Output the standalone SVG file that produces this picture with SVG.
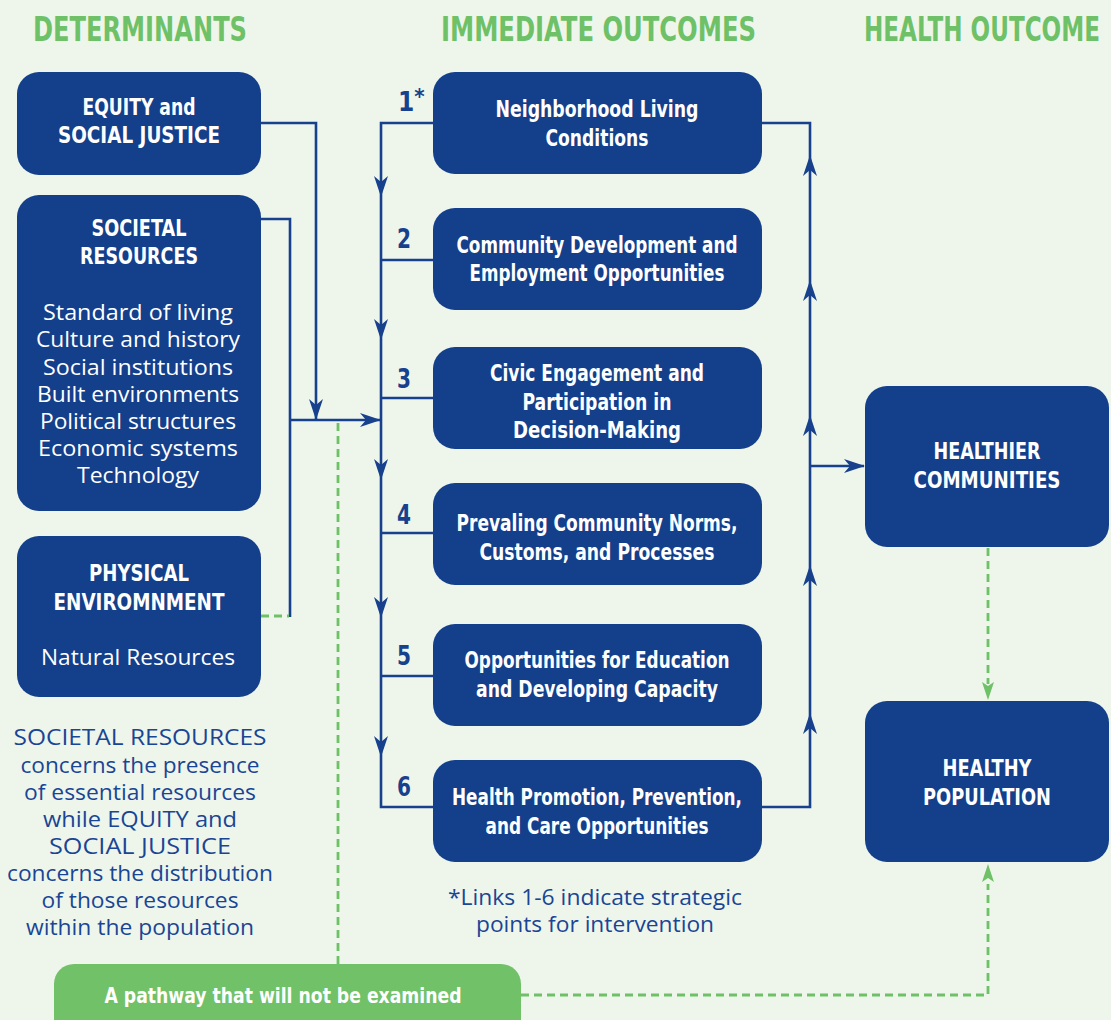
<svg xmlns="http://www.w3.org/2000/svg" xmlns:xlink="http://www.w3.org/1999/xlink" width="1111" height="1020" viewBox="0 0 1111 1020">
<style>
.bg{fill:#EEF6EC}
.box{fill:#133F8B}
.pill{fill:#71C169}
.hd{font-family:"DejaVu Sans Condensed","Liberation Sans",sans-serif;font-weight:bold;font-size:34px;fill:#6EC167}
.bt{font-family:"DejaVu Sans Condensed","Liberation Sans",sans-serif;font-weight:bold;font-size:23.5px;fill:#FFFFFF;text-anchor:middle}
.num{font-family:"DejaVu Sans Condensed","Liberation Sans",sans-serif;font-weight:bold;font-size:26px;fill:#17418D}
.reg{font-family:"Open Sans","Noto Sans","Liberation Sans",sans-serif;font-size:21.5px;fill:#FFFFFF;text-anchor:middle}
.regb{font-family:"Open Sans","Noto Sans","Liberation Sans",sans-serif;font-size:21.5px;fill:#1A4594;text-anchor:middle}
.ln{fill:none;stroke:#17418D;stroke-width:2.6}
.gd{fill:none;stroke:#6EC167;stroke-width:2.8;stroke-dasharray:8 5}
.ah{fill:#17418D}
.gah{fill:#6EC167}
</style>
<defs>
<path id="ah" d="M0,0 L-21,-7 L-15,0 L-21,7 Z"/>
<path id="gah" d="M0,0 L-18,-6 L-14,0 L-18,6 Z"/>
</defs>
<rect class="bg" x="0" y="0" width="1111" height="1020"/>

<g id="headers">
<text class="hd" x="33" y="41" textLength="214" lengthAdjust="spacingAndGlyphs">DETERMINANTS</text>
<text class="hd" x="441" y="41" textLength="315" lengthAdjust="spacingAndGlyphs">IMMEDIATE OUTCOMES</text>
<text class="hd" x="864" y="41" textLength="236" lengthAdjust="spacingAndGlyphs">HEALTH OUTCOME</text>
</g>

<g id="connectors">
<path class="ln" d="M261,123 H316 V419"/>
<path class="ln" d="M261,219 H290 V617"/>
<path class="ln" d="M290,420 H380"/>
<path class="ln" d="M433,123 H381 V807 H433"/>
<path class="ln" d="M381,260 H433 M381,398 H433 M381,533 H433 M381,676 H433"/>
<path class="ln" d="M762,123 H810 V807 H762"/>
<path class="ln" d="M810,466 H864"/>
<use xlink:href="#ah" class="ah" transform="translate(316,420) rotate(90)"/>
<use xlink:href="#ah" class="ah" transform="translate(381,420)"/>
<use xlink:href="#ah" class="ah" transform="translate(381,197) rotate(90)"/>
<use xlink:href="#ah" class="ah" transform="translate(381,340) rotate(90)"/>
<use xlink:href="#ah" class="ah" transform="translate(381,480) rotate(90)"/>
<use xlink:href="#ah" class="ah" transform="translate(381,618) rotate(90)"/>
<use xlink:href="#ah" class="ah" transform="translate(381,757) rotate(90)"/>
<use xlink:href="#ah" class="ah" transform="translate(810,155) rotate(-90)"/>
<use xlink:href="#ah" class="ah" transform="translate(810,280) rotate(-90)"/>
<use xlink:href="#ah" class="ah" transform="translate(810,415) rotate(-90)"/>
<use xlink:href="#ah" class="ah" transform="translate(810,565) rotate(-90)"/>
<use xlink:href="#ah" class="ah" transform="translate(810,713) rotate(-90)"/>
<use xlink:href="#ah" class="ah" transform="translate(865,466)"/>
<path class="gd" d="M261,616 H289"/>
<path class="gd" d="M338,423 V964"/>
<path class="gd" d="M988,548 V684"/>
<path class="gd" d="M521,995 H988 V884"/>
<use xlink:href="#gah" class="gah" transform="translate(988,700) rotate(90)"/>
<use xlink:href="#gah" class="gah" transform="translate(988,864) rotate(-90)"/>
</g>

<g id="equity">
<rect class="box" x="17" y="72" width="244" height="103" rx="22"/>
<text class="bt" x="139" y="115" textLength="113" lengthAdjust="spacingAndGlyphs">EQUITY and</text>
<text class="bt" x="139" y="143" textLength="162" lengthAdjust="spacingAndGlyphs">SOCIAL JUSTICE</text>
</g>

<g id="societal">
<rect class="box" x="17" y="195" width="244" height="316" rx="22"/>
<text class="bt" x="139" y="236" textLength="95" lengthAdjust="spacingAndGlyphs">SOCIETAL</text>
<text class="bt" x="139" y="264" textLength="118" lengthAdjust="spacingAndGlyphs">RESOURCES</text>
<text class="reg" x="138" y="320" textLength="190" lengthAdjust="spacingAndGlyphs">Standard of living</text>
<text class="reg" x="138" y="347" textLength="204" lengthAdjust="spacingAndGlyphs">Culture and history</text>
<text class="reg" x="138" y="375" textLength="190" lengthAdjust="spacingAndGlyphs">Social institutions</text>
<text class="reg" x="138" y="402" textLength="202" lengthAdjust="spacingAndGlyphs">Built environments</text>
<text class="reg" x="138" y="429" textLength="196" lengthAdjust="spacingAndGlyphs">Political structures</text>
<text class="reg" x="138" y="456" textLength="200" lengthAdjust="spacingAndGlyphs">Economic systems</text>
<text class="reg" x="138" y="483" textLength="122" lengthAdjust="spacingAndGlyphs">Technology</text>
</g>

<g id="physical">
<rect class="box" x="17" y="536" width="244" height="161" rx="22"/>
<text class="bt" x="139" y="581" textLength="100" lengthAdjust="spacingAndGlyphs">PHYSICAL</text>
<text class="bt" x="139" y="610" textLength="171" lengthAdjust="spacingAndGlyphs">ENVIROMNMENT</text>
<text class="reg" x="138" y="665" textLength="194" lengthAdjust="spacingAndGlyphs">Natural Resources</text>
</g>

<g id="note-left">
<text class="regb" x="140" y="745" textLength="253" lengthAdjust="spacingAndGlyphs">SOCIETAL RESOURCES</text>
<text class="regb" x="140" y="773" textLength="239" lengthAdjust="spacingAndGlyphs">concerns the presence</text>
<text class="regb" x="140" y="800" textLength="232" lengthAdjust="spacingAndGlyphs">of essential resources</text>
<text class="regb" x="140" y="827" textLength="194" lengthAdjust="spacingAndGlyphs">while EQUITY and</text>
<text class="regb" x="140" y="854" textLength="182" lengthAdjust="spacingAndGlyphs">SOCIAL JUSTICE</text>
<text class="regb" x="140" y="881" textLength="266" lengthAdjust="spacingAndGlyphs">concerns the distribution</text>
<text class="regb" x="140" y="908" textLength="197" lengthAdjust="spacingAndGlyphs">of those resources</text>
<text class="regb" x="140" y="935" textLength="228" lengthAdjust="spacingAndGlyphs">within the population</text>
</g>

<g id="numbers">
<text class="num" x="398" y="111">1<tspan dy="-7" style="font-size:22px">*</tspan></text>
<text class="num" x="397" y="248" textLength="14" lengthAdjust="spacingAndGlyphs">2</text>
<text class="num" x="397" y="388" textLength="14" lengthAdjust="spacingAndGlyphs">3</text>
<text class="num" x="397" y="524" textLength="14" lengthAdjust="spacingAndGlyphs">4</text>
<text class="num" x="397" y="665" textLength="14" lengthAdjust="spacingAndGlyphs">5</text>
<text class="num" x="397" y="796" textLength="14" lengthAdjust="spacingAndGlyphs">6</text>
</g>

<g id="o1">
<rect class="box" x="433" y="72" width="329" height="102" rx="22"/>
<text class="bt" x="597" y="117" textLength="203" lengthAdjust="spacingAndGlyphs">Neighborhood Living</text>
<text class="bt" x="597" y="146" textLength="103" lengthAdjust="spacingAndGlyphs">Conditions</text>
</g>
<g id="o2">
<rect class="box" x="433" y="208" width="329" height="102" rx="22"/>
<text class="bt" x="597" y="253" textLength="281" lengthAdjust="spacingAndGlyphs">Community Development and</text>
<text class="bt" x="597" y="281" textLength="255" lengthAdjust="spacingAndGlyphs">Employment Opportunities</text>
</g>
<g id="o3">
<rect class="box" x="433" y="347" width="329" height="102" rx="22"/>
<text class="bt" x="597" y="381" textLength="214" lengthAdjust="spacingAndGlyphs">Civic Engagement and</text>
<text class="bt" x="597" y="410" textLength="149" lengthAdjust="spacingAndGlyphs">Participation in</text>
<text class="bt" x="597" y="438" textLength="168" lengthAdjust="spacingAndGlyphs">Decision-Making</text>
</g>
<g id="o4">
<rect class="box" x="433" y="483" width="329" height="102" rx="22"/>
<text class="bt" x="597" y="531" textLength="281" lengthAdjust="spacingAndGlyphs">Prevaling Community Norms,</text>
<text class="bt" x="597" y="560" textLength="235" lengthAdjust="spacingAndGlyphs">Customs, and Processes</text>
</g>
<g id="o5">
<rect class="box" x="433" y="624" width="329" height="102" rx="22"/>
<text class="bt" x="597" y="668" textLength="265" lengthAdjust="spacingAndGlyphs">Opportunities for Education</text>
<text class="bt" x="597" y="697" textLength="242" lengthAdjust="spacingAndGlyphs">and Developing Capacity</text>
</g>
<g id="o6">
<rect class="box" x="433" y="760" width="329" height="102" rx="22"/>
<text class="bt" x="597" y="805" textLength="290" lengthAdjust="spacingAndGlyphs">Health Promotion, Prevention,</text>
<text class="bt" x="597" y="834" textLength="223" lengthAdjust="spacingAndGlyphs">and Care Opportunities</text>
</g>

<g id="footnote">
<text class="regb" x="595" y="905" textLength="294" lengthAdjust="spacingAndGlyphs">*Links 1-6 indicate strategic</text>
<text class="regb" x="595" y="932" textLength="238" lengthAdjust="spacingAndGlyphs">points for intervention</text>
</g>

<g id="healthier">
<rect class="box" x="865" y="386" width="244" height="161" rx="22"/>
<text class="bt" x="987" y="459" textLength="107" lengthAdjust="spacingAndGlyphs">HEALTHIER</text>
<text class="bt" x="987" y="488" textLength="147" lengthAdjust="spacingAndGlyphs">COMMUNITIES</text>
</g>
<g id="healthy">
<rect class="box" x="865" y="701" width="244" height="161" rx="22"/>
<text class="bt" x="987" y="776" textLength="89" lengthAdjust="spacingAndGlyphs">HEALTHY</text>
<text class="bt" x="987" y="805" textLength="128" lengthAdjust="spacingAndGlyphs">POPULATION</text>
</g>

<g id="pathway">
<rect class="pill" x="54" y="964" width="467" height="80" rx="20"/>
<text class="bt" x="283" y="1003" style="font-size:21px" textLength="357" lengthAdjust="spacingAndGlyphs">A pathway that will not be examined</text>
</g>
</svg>
